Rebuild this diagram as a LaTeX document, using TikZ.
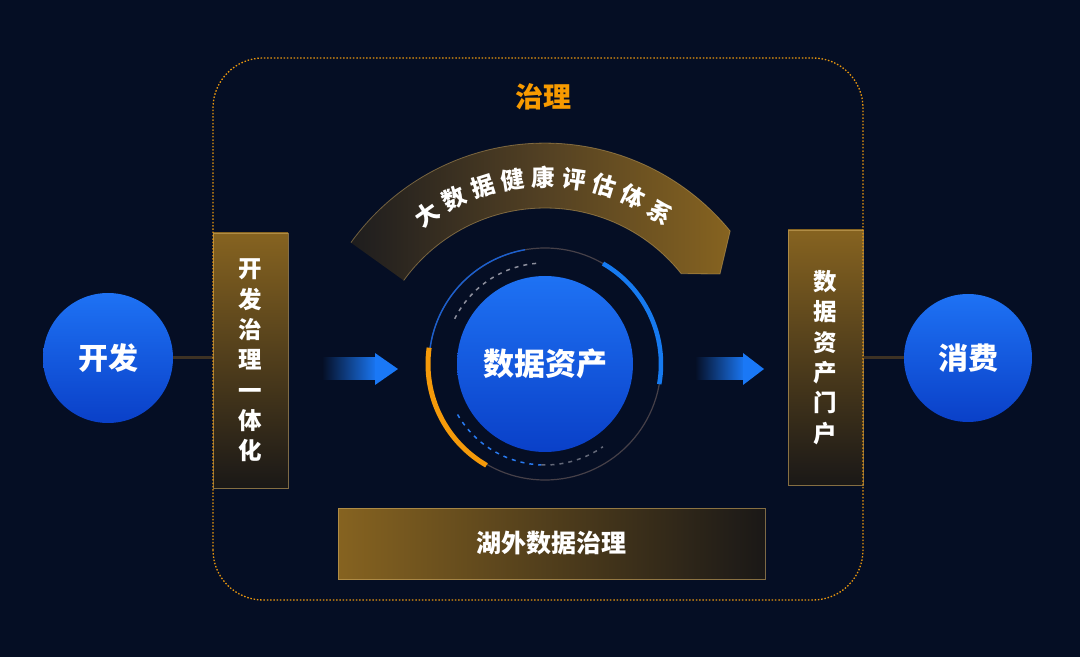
\documentclass[tikz,border=0pt]{standalone}
\usepackage{fontspec}
\setmainfont{Noto Sans CJK SC}
\usetikzlibrary{calc}
\definecolor{bg}{RGB}{5,14,36}
\definecolor{dotc}{RGB}{232,150,15}
\definecolor{orangeT}{RGB}{247,154,0}
\definecolor{gold}{RGB}{134,99,32}
\definecolor{goldmid}{RGB}{82,64,35}
\definecolor{goldedge}{RGB}{205,168,95}
\definecolor{darkbrown}{RGB}{26,24,23}
\definecolor{bandleft}{RGB}{30,29,30}
\definecolor{blueA}{RGB}{30,114,244}
\definecolor{blueB}{RGB}{10,64,200}
\definecolor{arrowblue}{RGB}{26,120,246}
\definecolor{ringgray}{RGB}{70,64,72}
\definecolor{ringblue}{RGB}{22,122,240}
\definecolor{ringthinblue}{RGB}{26,95,208}
\definecolor{ringorange}{RGB}{245,154,10}
\definecolor{dashgray}{RGB}{140,142,156}
\definecolor{dashblue}{RGB}{40,122,240}
\definecolor{connc}{RGB}{62,50,36}
\begin{document}
\begin{tikzpicture}[x=1pt,y=1pt,
  ball/.style={circle, minimum size=#1, inner sep=0pt, top color=blueA, bottom color=blueB, draw=none, text=white},
  balltext/.style={font=\bfseries\fontsize{30}{32}\selectfont},
  vbox/.style={rectangle, minimum width=75, inner sep=0pt, top color=gold, bottom color=darkbrown, draw=goldedge, draw opacity=0.6, line width=0.8, text=white, align=center, font=\bfseries\fontsize{23.5}{30.3}\selectfont},
  hbox/.style={rectangle, minimum width=427, minimum height=71, inner sep=0pt, left color=gold, right color=darkbrown, draw=goldedge, draw opacity=0.6, line width=0.8, text=white, font=\bfseries\fontsize{25}{28}\selectfont},
  bandch/.style={text=white, inner sep=0pt, font=\bfseries\fontsize{23.5}{25}\selectfont},
  conn/.style={draw=connc, line width=3},
  dotline/.style={draw=dotc, line width=1.3, dash pattern=on 1.5pt off 1.8pt},
]
\useasboundingbox (0,0) rectangle (1080,657);
\fill[bg] (0,0) rectangle (1080,657);

% band (health evaluation system)
\coordinate (bc) at (545,275);
\shade[left color=bandleft, right color=gold, middle color=goldmid]
  (350.9,414.4) arc[start angle=144.3, end angle=39.2, radius=239]
  -- (720,383) -- (681.2,383.3)
  arc[start angle=38.5, end angle=144.3, radius=174] -- cycle;
\draw[goldedge, draw opacity=0.5, line width=0.8]
  (350.9,414.4) arc[start angle=144.3, end angle=39.2, radius=239]
  -- (720,383) -- (681.2,383.3)
  arc[start angle=38.5, end angle=144.3, radius=174];
\foreach \c [count=\i] in {大,数,据,健,康,评,估,体,系}{
  \pgfmathsetmacro{\ang}{125-8.64*(\i-1)}
  \node[bandch, rotate=\ang-90] (band\i) at ($(bc)+(\ang:205)$) {\c};
}

% title
\node[text=orangeT, font=\bfseries\fontsize{28}{30}\selectfont] (gov) at (543,560) {治理};

% central asset circle with rings
\coordinate (dc) at (545,293);
\draw[ringgray, line width=1.2] (dc) circle (116);
\draw[ringthinblue, line width=1.4] ([shift={(100:116)}]dc) arc[start angle=100, end angle=172, radius=116];
\draw[ringblue, line width=4.5] ([shift={(-10:116)}]dc) arc[start angle=-10, end angle=60, radius=116];
\draw[ringorange, line width=5] ([shift={(172:117)}]dc) arc[start angle=172, end angle=240, radius=117];
\draw[dashgray, line width=1.5, dash pattern=on 4pt off 5pt] ([shift={(95:101)}]dc) arc[start angle=95, end angle=155, radius=101];
\draw[dashblue, line width=1.5, dash pattern=on 4pt off 5pt] ([shift={(210:101)}]dc) arc[start angle=210, end angle=268, radius=101];
\draw[dashgray!70!bg, line width=1.5, dash pattern=on 4pt off 5pt] ([shift={(268:101)}]dc) arc[start angle=268, end angle=305, radius=101];
\node[ball=176, font=\bfseries\fontsize{31}{33}\selectfont] (asset) at (dc) {数据资产};

% side boxes
\node[vbox, minimum height=255] (devbox) at (250.5,296.5) {开\\发\\治\\理\\一\\体\\化};
\node[vbox, minimum height=255] (portal) at (825.5,299.5) {数\\据\\资\\产\\门\\户};
\node[hbox] (lake) at (551.5,113.5) {湖外数据治理};

% end circles
\node[ball=130, balltext] (dev) at (108,299) {开发};
\node[ball=128, balltext] (con) at (968,299) {消费};
\draw[conn] (dev.east) -- (dev.east -| devbox.west);
\draw[conn] (portal.east |- con.west) -- (con.west);

% arrows
\shade[left color=bg, right color=arrowblue] (322,277) rectangle (377,299);
\fill[arrowblue] (375,304) -- (398,288) -- (375,272) -- cycle;
\shade[left color=bg, right color=arrowblue] (695,277) rectangle (745,299);
\fill[arrowblue] (743,304) -- (764,288) -- (743,272) -- cycle;

% governance dotted frame
\draw[dotline, rounded corners=50] (213,57) rectangle (863,599);
\end{tikzpicture}
\end{document}
